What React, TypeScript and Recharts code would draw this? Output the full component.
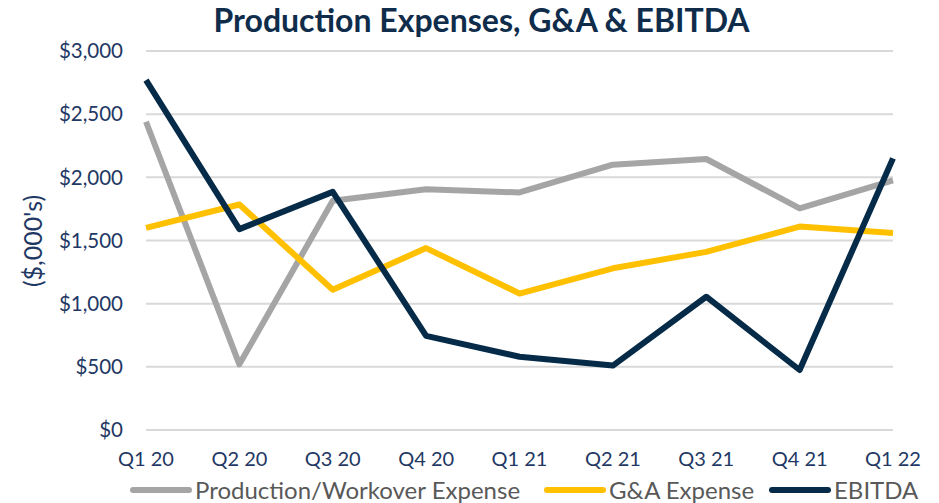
import React from 'react'
import { LineChart, Line, XAxis, YAxis, CartesianGrid } from 'recharts'

const QUARTERS = ['Q1 20', 'Q2 20', 'Q3 20', 'Q4 20', 'Q1 21', 'Q2 21', 'Q3 21', 'Q4 21', 'Q1 22']
const PRODUCTION = [2440, 520, 1815, 1905, 1880, 2100, 2145, 1755, 1975]
const GA = [1600, 1785, 1110, 1440, 1080, 1280, 1410, 1610, 1560]
const EBITDA = [2770, 1590, 1885, 745, 580, 510, 1055, 475, 2150]
const Y_TICKS = [0, 500, 1000, 1500, 2000, 2500, 3000]

const data = QUARTERS.map((q, i) => ({
  quarter: q,
  production: PRODUCTION[i],
  ga: GA[i],
  ebitda: EBITDA[i],
}))

const FONT = 'Lato, "Open Sans", sans-serif'
const TICK_COLOR = '#1f3864'

// legend entries, each with the x where its swatch starts
const LEGEND = [
  { label: 'Production/Workover Expense', color: '#a5a5a5', x: 130 },
  { label: 'G&A Expense', color: '#ffc000', x: 544 },
  { label: 'EBITDA', color: '#062b48', x: 769 },
]

export default function App() {
  return (
    <div style={{ position: 'absolute', left: 0, top: 0, width: 939, height: 503, background: '#fff', fontFamily: FONT }}>
      {/* title */}
      <div
        style={{
          position: 'absolute', left: 0, top: 1, width: 963, textAlign: 'center',
          fontSize: 32, fontWeight: 700, color: '#0f2d4b', lineHeight: '38px',
        }}
      >
        Production Expenses, G&amp;A &amp; EBITDA
      </div>

      {/* rotated axis title */}
      <div
        style={{
          position: 'absolute', left: 32, top: 241, transform: 'translate(-50%, -50%) rotate(-90deg)',
          fontSize: 25, color: TICK_COLOR, whiteSpace: 'nowrap',
        }}
      >
        ($,000's)
      </div>

      <LineChart width={939} height={503} data={data} margin={{ top: 51, right: 46, left: 0, bottom: 43 }}>
        <CartesianGrid vertical={false} stroke="#d9d9d9" strokeWidth={2} />
        <XAxis
          dataKey="quarter"
          axisLine={false}
          tickLine={false}
          tickSize={0}
          tickMargin={22}
          height={30}
          interval={0}
          tick={{ fontSize: 20, fill: TICK_COLOR, fontFamily: FONT }}
        />
        <YAxis
          domain={[0, 3000]}
          ticks={Y_TICKS}
          width={146}
          axisLine={false}
          tickLine={false}
          tickSize={0}
          tickMargin={23}
          tickFormatter={(v: number) => `$${v.toLocaleString('en-US')}`}
          tick={{ fontSize: 20.5, fill: TICK_COLOR, fontFamily: FONT }}
        />
        <Line dataKey="production" stroke="#a5a5a5" strokeWidth={6} dot={false} isAnimationActive={false} strokeLinejoin="round" />
        <Line dataKey="ga" stroke="#ffc000" strokeWidth={6} dot={false} isAnimationActive={false} strokeLinejoin="round" />
        <Line dataKey="ebitda" stroke="#062b48" strokeWidth={6} dot={false} isAnimationActive={false} strokeLinejoin="round" />
      </LineChart>

      {/* legend */}
      {LEGEND.map((item) => (
        <div
          key={item.label}
          style={{
            position: 'absolute', left: item.x, top: 476, display: 'flex', alignItems: 'center',
            fontSize: 24, color: '#595959', lineHeight: '28px', whiteSpace: 'nowrap',
          }}
        >
          <span style={{ display: 'inline-block', width: 62, height: 6, borderRadius: 3, background: item.color, marginRight: 3 }} />
          <span>{item.label}</span>
        </div>
      ))}
    </div>
  )
}
